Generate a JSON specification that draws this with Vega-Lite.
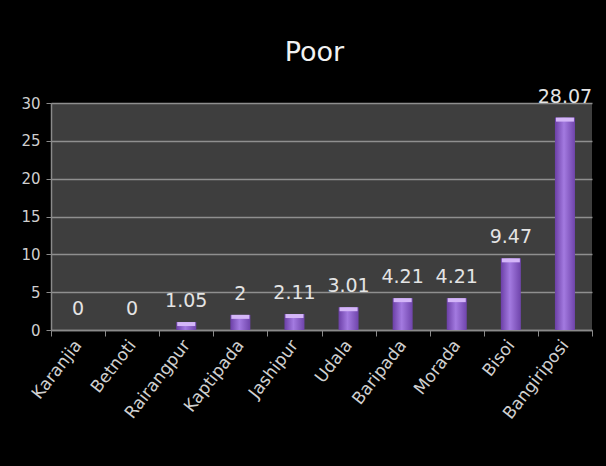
{
  "$schema": "https://vega.github.io/schema/vega-lite/v6.json",
  "autosize": {"type": "none"},
  "width": 541,
  "height": 227,
  "padding": {"left": 51, "top": 103, "right": 14, "bottom": 136},
  "background": "#000000",
  "title": {
    "text": "Poor",
    "font": "DejaVu Sans",
    "fontSize": 27,
    "fontWeight": "normal",
    "color": "#f2f2f2",
    "anchor": "middle",
    "offset": 21,
    "dx": -7
  },
  "config": {
    "view": {"fill": "#3e3e3e", "stroke": null},
    "font": "DejaVu Sans"
  },
  "data": {
    "values": [
      {"block": "Karanjia", "value": 0},
      {"block": "Betnoti", "value": 0},
      {"block": "Rairangpur", "value": 1.05},
      {"block": "Kaptipada", "value": 2},
      {"block": "Jashipur", "value": 2.11},
      {"block": "Udala", "value": 3.01},
      {"block": "Baripada", "value": 4.21},
      {"block": "Morada", "value": 4.21},
      {"block": "Bisoi", "value": 9.47},
      {"block": "Bangiriposi", "value": 28.07}
    ]
  },
  "encoding": {
    "x": {
      "field": "block",
      "type": "nominal",
      "sort": null,
      "scale": {"paddingInner": 0, "paddingOuter": 0},
      "axis": {
        "title": null,
        "labelAngle": -52,
        "labelAlign": "right",
        "labelBaseline": "middle",
        "labelFontSize": 17,
        "labelColor": "#d0d0d0",
        "labelPadding": 6,
        "tickBand": "extent",
        "tickColor": "#8a8a8a",
        "tickSize": 6,
        "domainColor": "#8a8a8a",
        "domainWidth": 1.5,
        "grid": false
      }
    },
    "y": {
      "field": "value",
      "type": "quantitative",
      "scale": {"domain": [0, 30], "nice": false},
      "axis": {
        "title": null,
        "values": [0, 5, 10, 15, 20, 25, 30],
        "labelFontSize": 15,
        "labelColor": "#cfcfcf",
        "labelPadding": 6,
        "tickColor": "#8a8a8a",
        "tickSize": 5,
        "domainColor": "#8a8a8a",
        "domainWidth": 1.5,
        "gridColor": "#8f8f8f",
        "gridWidth": 1.5
      }
    }
  },
  "layer": [
    {
      "mark": {
        "type": "bar",
        "width": {"band": 0.37},
        "fill": {
          "gradient": "linear",
          "x1": 0, "x2": 1, "y1": 0, "y2": 0,
          "stops": [
            {"offset": 0, "color": "#6b3fa6"},
            {"offset": 0.45, "color": "#a37ae0"},
            {"offset": 1, "color": "#6f44ab"}
          ]
        }
      }
    },
    {
      "transform": [{"filter": "datum.value > 0"}],
      "mark": {
        "type": "tick",
        "orient": "horizontal",
        "size": 18,
        "thickness": 4,
        "yOffset": 2,
        "color": "#d4b6f8",
        "opacity": 1
      }
    },
    {
      "mark": {
        "type": "text",
        "baseline": "alphabetic",
        "dy": -15,
        "fontSize": 19,
        "color": "#e4e4e4"
      },
      "encoding": {"text": {"field": "value", "type": "quantitative"}}
    }
  ]
}
